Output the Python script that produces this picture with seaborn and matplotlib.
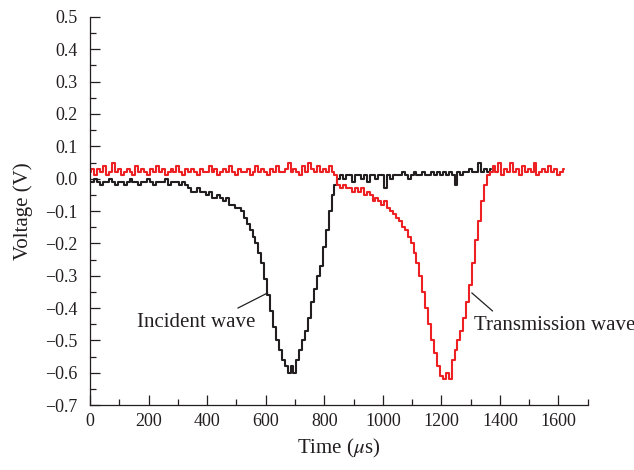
import numpy as np
import pandas as pd
import matplotlib
matplotlib.use("Agg")
import matplotlib.pyplot as plt
import seaborn as sns
from matplotlib.ticker import MultipleLocator, FuncFormatter

# ---- data (sampled every 10 us) ----
dt_us = 10
incident_v = [
    -0.01, -0.01, 0.00, -0.01, -0.02, -0.01, -0.01, 0.00, -0.01, -0.02,
    -0.01, -0.01, -0.02, -0.01, 0.00, -0.01, -0.01, -0.02, -0.01, -0.01,
    0.00, -0.01, -0.02, -0.01, -0.01, -0.01, 0.00, -0.02, -0.01, -0.01,
    -0.01, -0.02, -0.01, -0.02,
    -0.03, -0.04, -0.04, -0.03, -0.04, -0.04, -0.05, -0.04, -0.06, -0.06,
    -0.05, -0.06, -0.07, -0.06,
    -0.08, -0.08, -0.09, -0.09, -0.10, -0.12, -0.14, -0.16, -0.18, -0.20,
    -0.23, -0.26, -0.31, -0.36, -0.41, -0.46, -0.50, -0.53, -0.56, -0.58,
    -0.60, -0.58, -0.60, -0.56, -0.53, -0.50, -0.47, -0.43, -0.38, -0.34,
    -0.30, -0.27, -0.21, -0.16, -0.10, -0.05, -0.02, 0.00,
    0.01, 0.00, 0.01, 0.01, -0.01, 0.01, 0.01, 0.00, 0.01, -0.01,
    0.01, 0.01, 0.00, 0.01, 0.01, -0.03, 0.01, 0.00, 0.01, 0.01,
    0.01, 0.02, 0.01, 0.00, 0.01, 0.02, 0.01, 0.01, 0.02, 0.01,
    0.01, 0.02, 0.01, 0.02, 0.01, 0.02, 0.01, 0.02, 0.01, -0.02,
    0.02, 0.01, 0.02, 0.02, 0.03, 0.02, 0.02, 0.05, 0.02, 0.03,
    0.02, 0.03,
]
transmission_v = [
    0.02, 0.03, 0.01, 0.03, 0.02, 0.04, 0.01, 0.02, 0.05, 0.02,
    0.03, 0.01, 0.02, 0.03, 0.02, 0.01, 0.04, 0.02, 0.03, 0.02,
    0.01, 0.03, 0.02, 0.04, 0.02, 0.03, 0.01, 0.02, 0.03, 0.02,
    0.04, 0.02, 0.01, 0.03, 0.02, 0.03, 0.02, 0.01, 0.03, 0.02,
    0.02, 0.04, 0.02, 0.03, 0.01, 0.02, 0.03, 0.02, 0.04, 0.02,
    0.01, 0.03, 0.02, 0.02, 0.03, 0.01, 0.02, 0.04, 0.02, 0.03,
    0.02, 0.01, 0.03, 0.02, 0.04, 0.02, 0.02, 0.03, 0.05, 0.02,
    0.03, 0.02, 0.01, 0.04, 0.02, 0.05, 0.03, 0.02, 0.04, 0.02,
    0.03, 0.02, 0.04, 0.02, 0.01,
    -0.02, -0.03, -0.02, -0.03, -0.03, -0.04, -0.03, -0.04, -0.03, -0.05,
    -0.04, -0.05, -0.07, -0.06, -0.07, -0.08, -0.07, -0.09, -0.10, -0.11,
    -0.12, -0.13, -0.15, -0.16, -0.18, -0.20, -0.23, -0.26, -0.30, -0.35,
    -0.40, -0.45, -0.50, -0.54, -0.58, -0.61, -0.62, -0.60, -0.62, -0.56,
    -0.53, -0.50, -0.47, -0.43, -0.38, -0.33, -0.26, -0.19, -0.13, -0.07,
    -0.02, 0.01,
    0.02, 0.04, 0.02, 0.05, 0.01, 0.03, 0.02, 0.05, 0.02, 0.03,
    0.01, 0.04, 0.02, 0.03, 0.02, 0.05, 0.01, 0.02, 0.03, 0.02,
    0.04, 0.02, 0.03, 0.01, 0.02, 0.03,
]
series_names = ["Incident wave", "Transmission wave"]
series_colors = ["#231f20", "#ed2024"]
x_ticks = [0, 200, 400, 600, 800, 1000, 1200, 1400, 1600]
y_ticks = [0.5, 0.4, 0.3, 0.2, 0.1, 0.0, -0.1, -0.2, -0.3, -0.4, -0.5, -0.6, -0.7]

frames = []
for name, vals in zip(series_names, [incident_v, transmission_v]):
    frames.append(pd.DataFrame({"Time": np.arange(len(vals)) * dt_us,
                                "Voltage": vals, "Wave": name}))
df = pd.concat(frames, ignore_index=True)

sns.set_style("ticks")
plt.rcParams["font.family"] = ["Liberation Serif", "DejaVu Serif"]
plt.rcParams["mathtext.fontset"] = "stix"

fig = plt.figure(figsize=(6.34, 4.70), dpi=100)
ax = fig.add_axes([0.142, 0.138, 0.785, 0.826])

for name, col in zip(series_names, series_colors):
    sns.lineplot(data=df[df["Wave"] == name], x="Time", y="Voltage", ax=ax,
                 color=col, linewidth=1.5, drawstyle="steps-mid",
                 estimator=None, legend=False)

ax.set_xlim(0, 1700)
ax.set_ylim(-0.7, 0.5)
ax.set_xticks(x_ticks)
ax.set_yticks(y_ticks)
ax.xaxis.set_minor_locator(MultipleLocator(100))
ax.yaxis.set_minor_locator(MultipleLocator(0.05))


def fmt(v, pos):
    s = "%.1f" % abs(v)
    return ("\u2212" + s) if v < -1e-9 else s


ax.yaxis.set_major_formatter(FuncFormatter(fmt))
ax.tick_params(axis="both", which="major", direction="in", length=7,
               width=0.9, labelsize=13, colors="#231f20")
ax.tick_params(axis="y", which="major", pad=9)
ax.tick_params(axis="x", which="major", pad=6)
ax.tick_params(axis="both", which="minor", direction="in", length=4,
               width=0.9, colors="#231f20")
for s in ["top", "right"]:
    ax.spines[s].set_visible(False)
for s in ["left", "bottom"]:
    ax.spines[s].set_linewidth(0.9)
    ax.spines[s].set_color("#231f20")

ax.set_xlabel(r"Time ($\mu$s)", fontsize=15, color="#231f20", labelpad=5)
ax.set_ylabel("Voltage (V)", fontsize=15, color="#231f20", labelpad=9)

ax.text(160, -0.446, "Incident wave", fontsize=15, color="#231f20",
        ha="left", va="center")
ax.annotate("", xy=(607, -0.353), xytext=(505, -0.40),
            arrowprops=dict(arrowstyle="-", color="#231f20", lw=0.9,
                            shrinkA=0, shrinkB=0))
ax.text(1311, -0.455, "Transmission wave", fontsize=15, color="#231f20",
        ha="left", va="center")
ax.annotate("", xy=(1304, -0.353), xytext=(1375, -0.409),
            arrowprops=dict(arrowstyle="-", color="#231f20", lw=0.9,
                            shrinkA=0, shrinkB=0))

fig.savefig("out.png", dpi=100)
